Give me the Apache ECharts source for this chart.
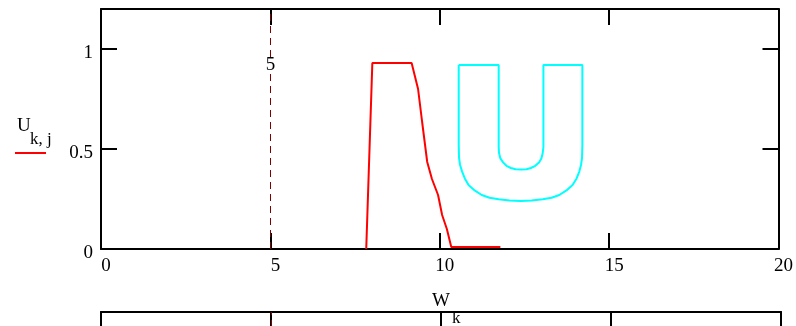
<!DOCTYPE html>
<html>
<head>
<meta charset="utf-8">
<style>
  html, body { margin: 0; padding: 0; background: #fff; }
  #chart { width: 796px; height: 326px; }
</style>
<script src="https://cdn.jsdelivr.net/npm/echarts@6/dist/echarts.min.js"></script>
</head>
<body>
<div id="chart"></div>
<script>
// Sampled response U(k, j) against frequency w(k)
const wK  = [7.83, 8.01, 9.17, 9.36, 9.48, 9.63, 9.77, 9.95, 10.07, 10.21, 10.34, 11.79];
const uKJ = [0,    0.93, 0.93, 0.80, 0.635, 0.435, 0.35, 0.27, 0.17, 0.10, 0.01, 0.01];

// Outline of the "U" trace, walked around its contour:
// left arm top, inner bowl, right arm, outer bowl, back to start
const outlineX = [
  10.56, 11.74,
  11.74, 11.75, 11.79, 11.87, 11.97, 12.10, 12.24, 12.40, 12.56, 12.69, 12.82, 12.93, 13.00, 13.04, 13.06,
  13.06, 14.21,
  14.21, 14.20, 14.17, 14.12, 14.04, 13.92, 13.74, 13.53, 13.30, 13.04, 12.71, 12.39,
  12.06, 11.74, 11.47, 11.24, 11.03, 10.85, 10.74, 10.66, 10.60, 10.57, 10.56, 10.56
];
const outlineY = [
  0.92,  0.92,
  0.51,  0.48,  0.453, 0.433, 0.416, 0.405, 0.399, 0.398, 0.399, 0.405, 0.416, 0.433, 0.453, 0.48,  0.51,
  0.92,  0.92,
  0.52,  0.455, 0.42,  0.387, 0.353, 0.32,  0.293, 0.27,  0.256, 0.249, 0.243, 0.24,
  0.243, 0.249, 0.256, 0.27,  0.293, 0.32,  0.353, 0.387, 0.42,  0.455, 0.52,  0.92
];

// Marker position on the w axis
const markerW = 5;

// Tick labels
const xTickLabels = [0, 5, 10, 15, 20];
const yTickLabels = [0, 0.5, 1];
const xInnerTicks = [5, 10, 15];
const yInnerTicks = [0.5, 1];

const FONT = '"Liberation Serif", "Times New Roman", serif';
const black = '#000';
const markerColor = '#800000';

const zip = (a, b) => a.map((v, i) => [v, b[i]]);

const chart = echarts.init(document.getElementById('chart'), null, { renderer: 'canvas' });

const frameLine = { show: true, onZero: false, lineStyle: { color: black, width: 2 } };
const innerTick = (vals) => ({ show: true, inside: true, length: 16, customValues: vals, lineStyle: { color: black, width: 2 } });
const markerLine = {
  silent: true, symbol: 'none', animation: false,
  label: { show: false },
  lineStyle: { color: markerColor, width: 1, type: [7, 5] },
  data: [{ xAxis: markerW }]
};

chart.setOption({
  animation: false,
  backgroundColor: '#fff',
  grid: [
    { left: 101, width: 680, top: 9, height: 240 },
    { left: 101, width: 680, top: 312, height: 300 }
  ],
  xAxis: [
    {
      gridIndex: 0, type: 'value', min: 0, max: 20, interval: 5, position: 'bottom',
      axisLine: frameLine, axisTick: innerTick(xInnerTicks), splitLine: { show: false },
      axisLabel: { show: true, customValues: xTickLabels, margin: 8, padding: [0, 0, 0, 10],
                   color: black, fontFamily: FONT, fontSize: 19 }
    },
    {
      gridIndex: 0, type: 'value', min: 0, max: 20, interval: 5, position: 'top',
      axisLine: frameLine, axisTick: innerTick(xInnerTicks), splitLine: { show: false },
      axisLabel: { show: false }
    },
    {
      gridIndex: 1, type: 'value', min: 0, max: 20, interval: 5, position: 'top',
      axisLine: frameLine, axisTick: innerTick(xInnerTicks), splitLine: { show: false },
      axisLabel: { show: false }
    }
  ],
  yAxis: [
    {
      gridIndex: 0, type: 'value', min: 0, max: 1.2, interval: 0.5, position: 'left',
      axisLine: frameLine, axisTick: innerTick(yInnerTicks), splitLine: { show: false },
      axisLabel: { show: true, customValues: yTickLabels, margin: 8,
                   verticalAlign: 'top', lineHeight: 8,
                   color: black, fontFamily: FONT, fontSize: 19 }
    },
    {
      gridIndex: 0, type: 'value', min: 0, max: 1.2, interval: 0.5, position: 'right',
      axisLine: frameLine, axisTick: innerTick(yInnerTicks), splitLine: { show: false },
      axisLabel: { show: false }
    },
    {
      gridIndex: 1, type: 'value', min: 0, max: 1, position: 'left',
      axisLine: frameLine, axisTick: { show: false }, splitLine: { show: false },
      axisLabel: { show: false }
    },
    {
      gridIndex: 1, type: 'value', min: 0, max: 1, position: 'right',
      axisLine: frameLine, axisTick: { show: false }, splitLine: { show: false },
      axisLabel: { show: false }
    }
  ],
  series: [
    {
      name: 'U', type: 'line', xAxisIndex: 0, yAxisIndex: 0,
      data: zip(wK, uKJ), showSymbol: false, symbol: 'none',
      lineStyle: { color: '#ff0000', width: 2 }, z: 5,
      markLine: markerLine,
      markPoint: {
        silent: true, animation: false,
        symbol: 'rect', symbolSize: [12, 16],
        itemStyle: { color: '#fff' },
        label: { show: true, position: 'inside', formatter: String(markerW),
                 color: black, fontFamily: FONT, fontSize: 19 },
        data: [{ coord: [markerW, 0.92] }]
      }
    },
    {
      name: 'outline', type: 'line', xAxisIndex: 0, yAxisIndex: 0,
      data: zip(outlineX, outlineY), showSymbol: false, symbol: 'none', smooth: false,
      lineStyle: { color: '#00ffff', width: 2 }, z: 4
    },
    {
      name: 'lower', type: 'line', xAxisIndex: 2, yAxisIndex: 2,
      data: [], symbol: 'none',
      markLine: markerLine
    }
  ],
  graphic: [
    { type: 'text', left: 17, top: 117, style: { text: 'U', fontFamily: FONT, fontSize: 19, fill: black } },
    { type: 'text', left: 30, top: 131, style: { text: 'k, j', fontFamily: FONT, fontSize: 17, fill: black } },
    { type: 'line', shape: { x1: 15, y1: 153, x2: 46, y2: 153 }, style: { stroke: '#ff0000', lineWidth: 2 } },
    { type: 'text', left: 432, top: 292, style: { text: 'W', fontFamily: FONT, fontSize: 19, fill: black } },
    { type: 'text', left: 452, top: 310, style: { text: 'k', fontFamily: FONT, fontSize: 17, fill: black } }
  ]
});
</script>
</body>
</html>
